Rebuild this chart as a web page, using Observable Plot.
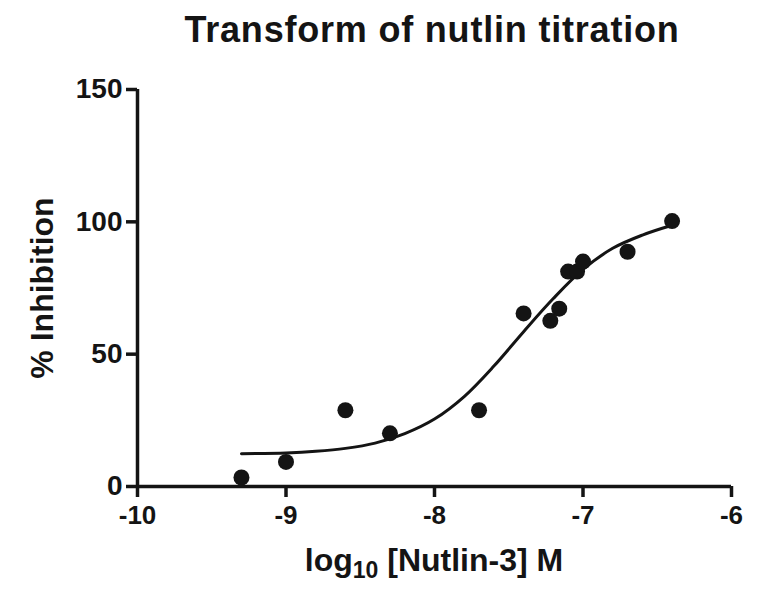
<!DOCTYPE html>
<html><head><meta charset="utf-8">
<script src="https://cdn.jsdelivr.net/npm/d3@7"></script>
<script src="https://cdn.jsdelivr.net/npm/@observablehq/plot@0.6"></script>
<style>
body{margin:0;background:#fff}
#chart svg{font-family:"Liberation Sans",Arial,Helvetica,sans-serif}
</style>
</head><body><div id="chart"></div>
<script>
// Measured data points (log10 concentration, % inhibition)
const logConc =    [-9.3, -9.0, -8.6, -8.3, -7.7, -7.4, -7.22, -7.16, -7.1, -7.04, -7.0, -6.7, -6.4];
const inhibition = [3.4,   9.3, 28.8, 20.1, 28.8, 65.4, 62.6,  67.2,  81.2,  81.2, 85.0, 88.7, 100.3];

// Fitted curve
const fitX = [-9.3, -9.0, -8.8, -8.6, -8.4, -8.2, -8.0, -7.8, -7.6, -7.4, -7.2, -7.0, -6.8, -6.6, -6.4];
const fitY = [12.4, 12.7, 13.3, 14.4, 16.4, 20.0, 25.5, 34.0, 45.5, 58.5, 71.0, 82.0, 90.0, 95.0, 98.7];

const xTicks = [-10, -9, -8, -7, -6];
const yTicks = [0, 50, 100, 150];
const titleText = "Transform of nutlin titration";
const yLabelText = "% Inhibition";

const points = logConc.map((x, i) => ({x, y: inhibition[i]}));
const fit = fitX.map((x, i) => ({x, y: fitY[i]}));
const ink = "#141414";

const plot = Plot.plot({
  width: 764,
  height: 595,
  marginLeft: 137,
  marginRight: 33,
  marginTop: 89,
  marginBottom: 109,
  x: {domain: [-10, -6]},
  y: {domain: [0, 150]},
  style: {background: "white", color: ink},
  marks: [
    Plot.axisX({ticks: xTicks, tickSize: 11, tickPadding: 8, strokeWidth: 3.5, fontSize: 26, fontWeight: "bold", label: null, tickFormat: d => String(d).replace("\u2212", "-")}),
    Plot.axisY({ticks: yTicks, tickSize: 11, tickPadding: 4, strokeWidth: 3.5, fontSize: 28, fontWeight: "bold", label: null}),
    Plot.ruleY([0], {stroke: ink, strokeWidth: 3.5}),
    Plot.ruleX([-10], {stroke: ink, strokeWidth: 3.5}),
    Plot.line(fit, {x: "x", y: "y", stroke: ink, strokeWidth: 3, curve: "catmull-rom"}),
    Plot.dot(points, {x: "x", y: "y", r: 8, fill: ink, stroke: "none"})
  ]
});

const svg = d3.select(plot);
svg.append("text")
  .attr("x", 432).attr("y", 42)
  .attr("text-anchor", "middle")
  .attr("font-size", 36).attr("font-weight", "bold").attr("fill", ink)
  .attr("letter-spacing", 0.8)
  .text(titleText);

svg.append("text")
  .attr("transform", "translate(53,288) rotate(-90)")
  .attr("text-anchor", "middle")
  .attr("font-size", 32).attr("font-weight", "bold").attr("fill", ink)
  .text(yLabelText);

const xl = svg.append("text")
  .attr("x", 434).attr("y", 571)
  .attr("text-anchor", "middle")
  .attr("font-size", 32).attr("font-weight", "bold").attr("fill", ink);
xl.append("tspan").text("log");
xl.append("tspan").attr("font-size", 23).attr("dy", 7).text("10");
xl.append("tspan").attr("dy", -7).text(" [Nutlin-3] M");

document.getElementById("chart").appendChild(plot);
</script>
</body></html>
